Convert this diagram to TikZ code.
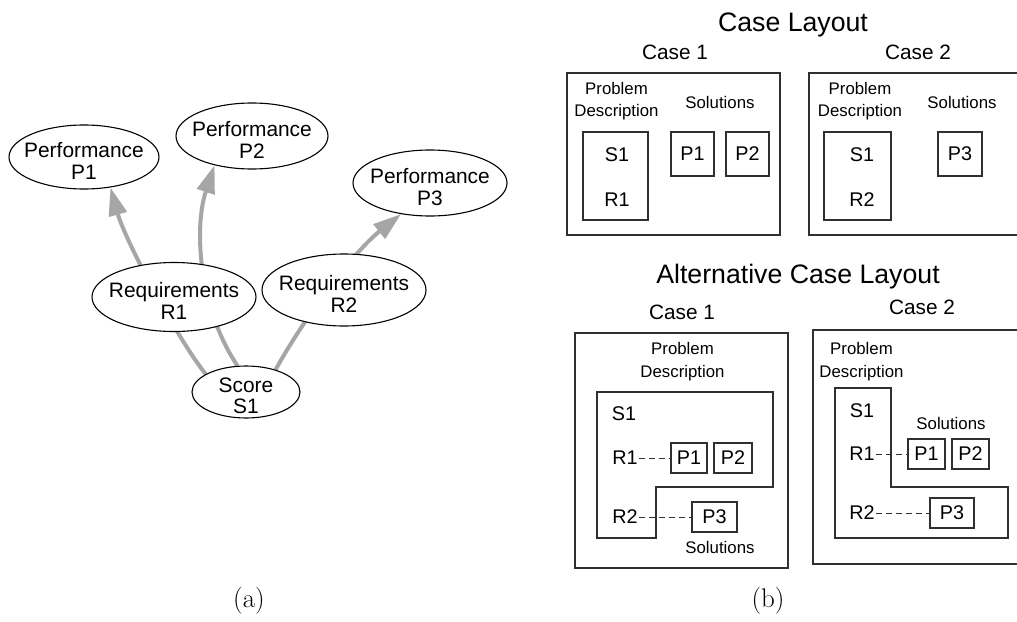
\documentclass[tikz,border=0pt]{standalone}
\usepackage{fontspec}
\newfontfamily\arial{Liberation Sans}
\usetikzlibrary{shapes.geometric,arrows.meta,backgrounds}
\definecolor{flowgray}{HTML}{A6A6A6}
\definecolor{boxline}{HTML}{303030}
\newcommand\ellfont{\arial\fontsize{20.9}{21.5}\selectfont}
\newcommand\titlefont{\arial\fontsize{26.7}{30}\selectfont}
\newcommand\casefont{\arial\fontsize{20.8}{24}\selectfont}
\newcommand\smallfont{\arial\fontsize{16.8}{22.5}\selectfont}
\newcommand\itemfont{\arial\fontsize{19.8}{22}\selectfont}
\newcommand\capfont{\fontsize{27}{32}\selectfont}
\begin{document}
\begin{tikzpicture}[x=1pt,y=-1pt,
  ell/.style n args={3}{ellipse, draw, line width=1.1pt, fill=white, inner sep=0pt,
    minimum width=#1, minimum height=#2,
    label={[yshift=-4pt, align=center, font=\ellfont, inner sep=0pt]center:#3}},
  flow/.style={draw=flowgray, line width=4pt, -{Triangle[length=28pt,width=18pt]}},
  box/.style={draw=boxline, line width=1.1pt, inner sep=0pt},
  lshape/.style={draw=boxline, line width=1.1pt},
  txt/.style={inner sep=1.5pt, align=center},
  link/.style={draw=boxline, line width=0.8pt, dash pattern=on 6pt off 4pt}]
\useasboundingbox (0,0) rectangle (1017,621);
\clip (0,0) rectangle (1017,621);

% ---------------- (a): score / requirements / performance graph
\node[ell={150}{64}{Performance\\P1}] (P1) at (84,157) {};
\node[ell={152}{66}{Performance\\P2}] (P2) at (252,136) {};
\node[ell={154}{66}{Performance\\P3}] (P3) at (430,183) {};
\node[ell={164}{69}{Requirements\\R1}] (R1) at (174,297) {};
\node[ell={164}{72}{Requirements\\R2}] (R2) at (344,290) {};
\node[ell={108}{52}{Score\\S1}] (S1) at (246,392) {};

\begin{pgfonlayer}{background}
  \fill[white] (0,0) rectangle (1017,621);
  \draw[flow] (S1.156) .. controls (178,340) and (125,240) .. (P1.311);
  \draw[flow] (S1.108) .. controls (200,310) and (193,230) .. (P2.218);
  \draw[flow] (S1.37) .. controls (300,325) and (350,255) .. (P3.227);
\end{pgfonlayer}

\node[font=\capfont] (capA) at (249,601) {(a)};

% ---------------- (b): case layouts
\node[font=\titlefont] (t1) at (793,25) {Case Layout};
\node[font=\casefont] (c1lab) at (675,52) {Case 1};
\node[font=\casefont] (c2lab) at (918,52) {Case 2};

% case 1
\node[box, minimum width=213, minimum height=162] (c1) at (673.5,154) {};
\node[txt, font=\smallfont] (c1pd) at (616.5,101) {Problem\\Description};
\node[txt, font=\smallfont] (c1sol) at (720,102) {Solutions};
\node[box, minimum width=65, minimum height=88] (c1in) at (615.5,176) {};
\node[txt, font=\itemfont] (c1s) at (617,155) {S1};
\node[txt, font=\itemfont] (c1r) at (617,200) {R1};
\node[box, minimum width=43, minimum height=44, font=\itemfont] (c1p1) at (692.5,154) {P1};
\node[box, minimum width=43, minimum height=44, font=\itemfont] (c1p2) at (747.5,154) {P2};

% case 2
\node[box, minimum width=221, minimum height=162] (c2) at (919.5,154) {};
\node[txt, font=\smallfont] (c2pd) at (860,101) {Problem\\Description};
\node[txt, font=\smallfont] (c2sol) at (962,102) {Solutions};
\node[box, minimum width=67, minimum height=88] (c2in) at (857.5,176) {};
\node[txt, font=\itemfont] (c2s) at (862,155) {S1};
\node[txt, font=\itemfont] (c2r) at (862,200) {R2};
\node[box, minimum width=44, minimum height=44, font=\itemfont] (c2p3) at (960,154) {P3};

% alternative layout
\node[font=\titlefont] (t2) at (798,277) {Alternative Case Layout};
\node[font=\casefont] (a1lab) at (682,312) {Case 1};
\node[font=\casefont] (a2lab) at (922,307) {Case 2};

% alternative case 1
\node[box, minimum width=213, minimum height=235] (a1) at (681.5,450.5) {};
\node[txt, font=\smallfont] (a1pd) at (682.5,361.5) {Problem\\Description};
\draw[lshape] (597,392) -- (773,392) -- (773,487) -- (656,487) -- (656,538) -- (597,538) -- cycle;
\node[txt, font=\itemfont] (a1s) at (624,414) {S1};
\node[txt, font=\itemfont] (a1r1) at (625,458) {R1};
\node[txt, font=\itemfont] (a1r2) at (625,517) {R2};
\node[box, minimum width=36, minimum height=30, font=\itemfont] (a1p1) at (689,458) {P1};
\node[box, minimum width=38, minimum height=30, font=\itemfont] (a1p2) at (733,458) {P2};
\node[box, minimum width=45, minimum height=30, font=\itemfont] (a1p3) at (714.5,517) {P3};
\node[txt, font=\smallfont] (a1sol) at (720,547) {Solutions};
\draw[link] (a1r1.east) -- (a1r1.east -| a1p1.west);
\draw[link] (a1r2.east) -- (a1r2.east -| a1p3.west);

% alternative case 2
\node[box, minimum width=217, minimum height=234] (a2) at (921.5,447) {};
\node[txt, font=\smallfont] (a2pd) at (861.5,361.5) {Problem\\Description};
\draw[lshape] (835,388) -- (891,388) -- (891,487) -- (1008,487) -- (1008,538) -- (835,538) -- cycle;
\node[txt, font=\itemfont] (a2s) at (862,411) {S1};
\node[txt, font=\itemfont] (a2r1) at (862,454) {R1};
\node[txt, font=\itemfont] (a2r2) at (862,513) {R2};
\node[txt, font=\smallfont] (a2sol) at (951,423) {Solutions};
\node[box, minimum width=37, minimum height=30, font=\itemfont] (a2p1) at (926.5,454) {P1};
\node[box, minimum width=37, minimum height=30, font=\itemfont] (a2p2) at (970.5,454) {P2};
\node[box, minimum width=44, minimum height=30, font=\itemfont] (a2p3) at (952,513) {P3};
\draw[link] (a2r1.east) -- (a2r1.east -| a2p1.west);
\draw[link] (a2r2.east) -- (a2r2.east -| a2p3.west);

\node[font=\capfont] (capB) at (768,601) {(b)};
\end{tikzpicture}
\end{document}
